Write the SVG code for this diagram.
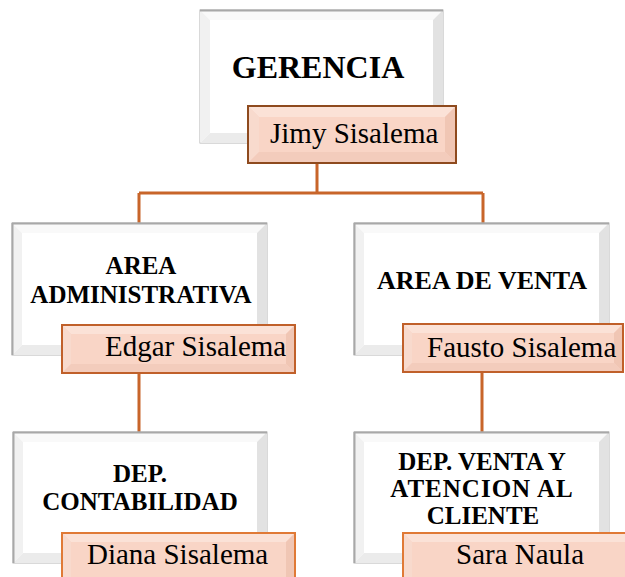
<svg xmlns="http://www.w3.org/2000/svg" width="625" height="577" viewBox="0 0 625 577">
<style>
.base{fill:#ffffff;stroke:#b4b4b4;stroke-width:1}
.bt{fill:#f9f9f9}
.bl{fill:#f1f1f1}
.br{fill:#e2e2e2}
.bb{fill:#ebebeb}
.edge{stroke:#a8a8a8;stroke-width:2}
.nbase{fill:#f9d5c6;stroke:#c0602a;stroke-width:2}
.nt{fill:#fbe2d7}
.nl{fill:#f8dacd}
.nr{fill:#f0c6b4}
.nb{fill:#f3ccbc}
.title{font-family:"Liberation Serif","Times New Roman",serif;font-weight:bold;fill:#000;text-anchor:middle}
.name{font-family:"Liberation Serif","Times New Roman",serif;font-size:29px;fill:#000}
.conn{fill:none;stroke:#c8652a;stroke-width:3}
</style>
<rect width="625" height="577" fill="#ffffff"/>
<g id="connectors">
<path class="conn" d="M317 163 V193 M139 193 H483 M139 193 V223 M483 193 V223 M139 373 V432 M482 372 V432"/>
</g>
<g id="gerencia">
<rect class="base" x="200" y="10" width="243" height="133"/>
<polygon class="bt" points="200,10 443,10 433,20 210,20"/>
<polygon class="bl" points="200,10 210,20 210,133 200,143"/>
<polygon class="br" points="443,10 443,143 433,133 433,20"/>
<polygon class="bb" points="200,143 443,143 433,133 210,133"/>
<line class="edge" x1="200" y1="10.5" x2="443" y2="10.5"/>
<text class="title" x="318" y="78" font-size="32">GERENCIA</text>
</g>
<g id="jimy">
<rect class="nbase" x="248" y="106" width="208" height="57" style="stroke:#8e4a1e"/>
<polygon class="nt" points="249,107 455,107 445,117 259,117"/>
<polygon class="nl" points="249,107 259,117 259,152 249,162"/>
<polygon class="nr" points="455,107 455,162 445,152 445,117"/>
<polygon class="nb" points="249,162 455,162 445,152 259,152"/>
<text class="name" x="270" y="143">Jimy Sisalema</text>
</g>
<g id="area-admin">
<rect class="base" x="12" y="223" width="255" height="132"/>
<polygon class="bt" points="12,223 267,223 257,233 22,233"/>
<polygon class="bl" points="12,223 22,233 22,345 12,355"/>
<polygon class="br" points="267,223 267,355 257,345 257,233"/>
<polygon class="bb" points="12,355 267,355 257,345 22,345"/>
<line class="edge" x1="12" y1="223.5" x2="267" y2="223.5"/>
<line class="edge" x1="12.5" y1="223" x2="12.5" y2="355"/>
<text class="title" x="141" y="274" font-size="25">AREA</text>
<text class="title" x="141" y="303" font-size="25">ADMINISTRATIVA</text>
</g>
<g id="edgar">
<rect class="nbase" x="62" y="325" width="233" height="48"/>
<polygon class="nt" points="63,326 294,326 286,334 71,334"/>
<polygon class="nl" points="63,326 71,334 71,364 63,372"/>
<polygon class="nr" points="294,326 294,372 286,364 286,334"/>
<polygon class="nb" points="63,372 294,372 286,364 71,364"/>
<text class="name" x="105" y="356">Edgar Sisalema</text>
</g>
<g id="area-venta">
<rect class="base" x="354" y="223" width="255" height="132"/>
<polygon class="bt" points="354,223 609,223 599,233 364,233"/>
<polygon class="bl" points="354,223 364,233 364,345 354,355"/>
<polygon class="br" points="609,223 609,355 599,345 599,233"/>
<polygon class="bb" points="354,355 609,355 599,345 364,345"/>
<line class="edge" x1="354" y1="223.5" x2="609" y2="223.5"/>
<line class="edge" x1="354.5" y1="223" x2="354.5" y2="355"/>
<text class="title" x="482" y="289" font-size="26">AREA DE VENTA</text>
</g>
<g id="fausto">
<rect class="nbase" x="403" y="324" width="220" height="48"/>
<polygon class="nt" points="404,325 622,325 614,333 412,333"/>
<polygon class="nl" points="404,325 412,333 412,363 404,371"/>
<polygon class="nr" points="622,325 622,371 614,363 614,333"/>
<polygon class="nb" points="404,371 622,371 614,363 412,363"/>
<text class="name" x="427" y="357">Fausto Sisalema</text>
</g>
<g id="dep-contabilidad">
<rect class="base" x="13" y="432" width="254" height="131"/>
<polygon class="bt" points="13,432 267,432 257,442 23,442"/>
<polygon class="bl" points="13,432 23,442 23,553 13,563"/>
<polygon class="br" points="267,432 267,563 257,553 257,442"/>
<polygon class="bb" points="13,563 267,563 257,553 23,553"/>
<line class="edge" x1="13" y1="432.5" x2="267" y2="432.5"/>
<line class="edge" x1="13.5" y1="432" x2="13.5" y2="563"/>
<text class="title" x="140" y="482" font-size="25">DEP.</text>
<text class="title" x="140" y="510" font-size="25">CONTABILIDAD</text>
</g>
<g id="diana">
<rect class="nbase" x="62" y="533" width="233" height="50" style="stroke:#e07a36"/>
<polygon class="nt" points="63,534 294,534 286,542 71,542"/>
<polygon class="nl" points="63,534 71,542 71,578 63,578"/>
<polygon class="nr" points="294,534 294,578 286,578 286,542"/>
<text class="name" x="87" y="564">Diana Sisalema</text>
</g>
<g id="dep-venta">
<rect class="base" x="354" y="432" width="255" height="131"/>
<polygon class="bt" points="354,432 609,432 599,442 364,442"/>
<polygon class="bl" points="354,432 364,442 364,553 354,563"/>
<polygon class="br" points="609,432 609,563 599,553 599,442"/>
<polygon class="bb" points="354,563 609,563 599,553 364,553"/>
<line class="edge" x1="354" y1="432.5" x2="609" y2="432.5"/>
<line class="edge" x1="354.5" y1="432" x2="354.5" y2="563"/>
<text class="title" x="482" y="470" font-size="25">DEP. VENTA Y</text>
<text class="title" x="482" y="497" font-size="25" letter-spacing="1">ATENCION AL</text>
<text class="title" x="483" y="524" font-size="25">CLIENTE</text>
</g>
<g id="sara">
<rect class="nbase" x="403" y="533" width="240" height="50" style="stroke:#e07a36"/>
<polygon class="nt" points="404,534 642,534 634,542 412,542"/>
<polygon class="nl" points="404,534 412,542 412,578 404,578"/>
<text class="name" x="456" y="564">Sara Naula</text>
</g>
</svg>
